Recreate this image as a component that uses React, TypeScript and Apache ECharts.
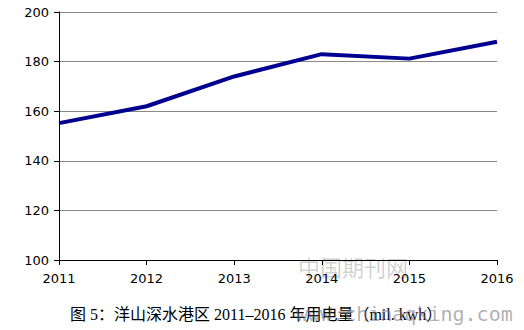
import React, { useEffect, useRef } from "react";
import * as echarts from "echarts";

const years = ["2011", "2012", "2013", "2014", "2015", "2016"];
const consumption = [155.2, 162, 174, 183, 181.2, 188];
const caption = "图 5：洋山深水港区 2011–2016 年用电量（mil. kwh）";

export default function App() {
  const ref = useRef<HTMLDivElement>(null);
  useEffect(() => {
    if (!ref.current) return;
    const chart = echarts.init(ref.current, null, { renderer: "svg" });
    chart.setOption({
      animation: false,
      backgroundColor: "#ffffff",
      grid: { left: 59, right: 27, top: 12, bottom: 70 },
      xAxis: {
        type: "category",
        data: years,
        boundaryGap: false,
        axisLine: { lineStyle: { color: "#000", width: 1 } },
        axisTick: { show: true, length: 5, lineStyle: { color: "#000" } },
        axisLabel: {
          color: "#000",
          fontFamily: "DejaVu Sans",
          fontSize: 13,
          margin: 12,
          showMinLabel: true,
          showMaxLabel: true,
        },
        splitLine: { show: false },
      },
      yAxis: {
        type: "value",
        min: 100,
        max: 200,
        interval: 20,
        axisLine: { show: true, lineStyle: { color: "#000", width: 1 } },
        axisTick: { show: true, length: 5, lineStyle: { color: "#000" } },
        axisLabel: {
          color: "#000",
          fontFamily: "DejaVu Sans",
          fontSize: 13,
          margin: 10,
        },
        splitLine: { lineStyle: { color: "#888", width: 1 } },
      },
      series: [
        {
          type: "line",
          data: consumption,
          symbol: "none",
          lineStyle: { color: "#000090", width: 4 },
        },
      ],
      graphic: [
        {
          type: "text",
          left: 70,
          top: 306,
          style: {
            text: caption,
            fill: "#000",
            font: '16px "Liberation Serif", "Noto Sans CJK SC", serif',
          },
        },
        {
          type: "text",
          left: 298,
          top: 255,
          style: {
            text: "中国期刊网",
            fill: "rgba(120,120,120,0.35)",
            font: '22px "Noto Sans CJK SC", sans-serif',
          },
        },
        {
          type: "text",
          left: 296,
          top: 304,
          style: {
            text: "www.chinaqking.com",
            fill: "rgba(110,110,120,0.55)",
            font: '20px "DejaVu Sans Mono", monospace',
          },
        },
      ],
    });
    return () => chart.dispose();
  }, []);
  return (
    <div
      ref={ref}
      style={{ position: "absolute", left: 0, top: 0, width: 524, height: 330 }}
    />
  );
}
